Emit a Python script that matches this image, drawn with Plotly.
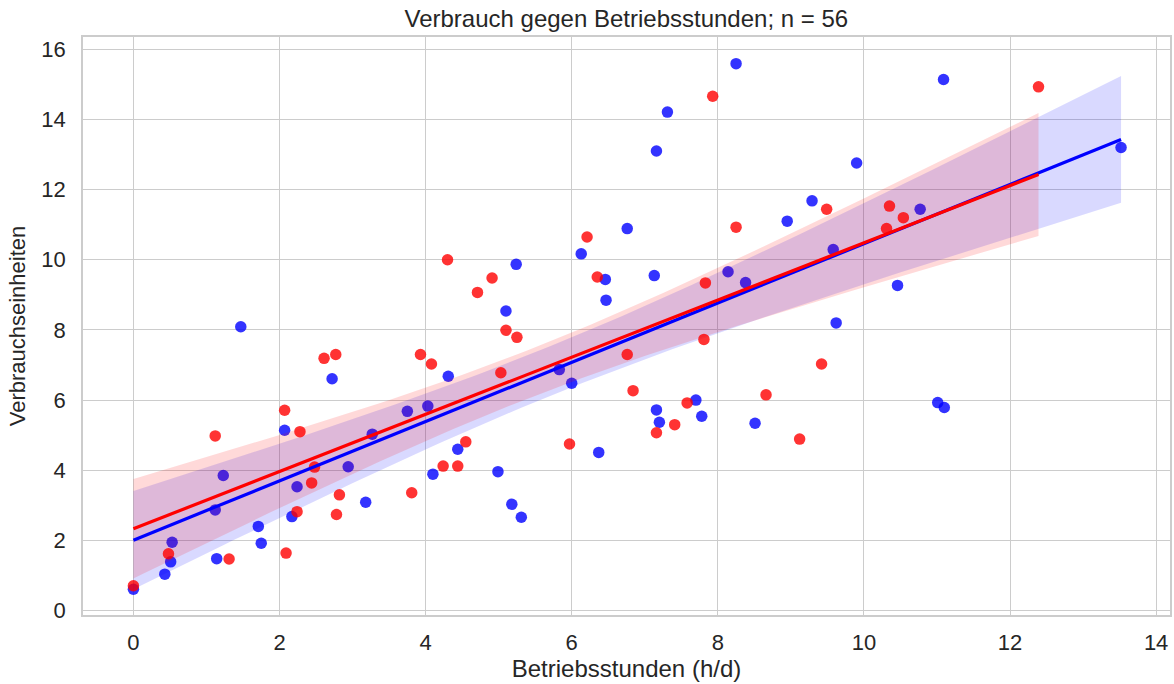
import numpy as np
import plotly.graph_objects as go

# Betriebsstunden (h/d) und Verbrauchseinheiten, Gruppe A (blau)
hours_a = [0.00, 0.43, 0.51, 0.53, 1.12, 1.14, 1.23, 1.47, 1.71, 1.75,
           2.07, 2.17, 2.24, 2.72, 2.94, 3.18, 3.27, 3.75, 4.03, 4.10,
           4.31, 4.44, 4.99, 5.10, 5.18, 5.24, 5.31, 5.83, 6.00, 6.13,
           6.37, 6.46, 6.47, 6.76, 7.13, 7.16, 7.16, 7.20, 7.31, 7.70,
           7.78, 8.14, 8.25, 8.38, 8.51, 8.95, 9.29, 9.58, 9.62, 9.90,
           10.46, 10.77, 11.01, 11.10, 11.09, 13.52]
usage_a = [0.61, 1.04, 1.39, 1.95, 2.87, 1.48, 3.85, 8.09, 2.40, 1.92,
           5.14, 2.68, 3.53, 6.61, 4.10, 3.09, 5.03, 5.68, 5.83, 3.89,
           6.68, 4.60, 3.96, 8.54, 3.03, 9.87, 2.66, 6.87, 6.48, 10.17,
           4.51, 9.44, 8.85, 10.89, 9.55, 13.10, 5.72, 5.37, 14.21, 6.00,
           5.54, 9.66, 15.59, 9.35, 5.34, 11.10, 11.68, 10.29, 8.20, 12.76,
           9.27, 11.44, 5.93, 5.79, 15.14, 13.20]

# Gruppe B (rot)
hours_b = [0.00, 0.48, 1.12, 1.31, 2.07, 2.09, 2.24, 2.28, 2.44, 2.48,
           2.61, 2.77, 2.78, 2.82, 3.81, 3.93, 4.08, 4.24, 4.30, 4.44,
           4.55, 4.71, 4.91, 5.03, 5.10, 5.25, 5.97, 6.21, 6.35, 6.76,
           6.84, 7.16, 7.41, 7.58, 7.81, 7.83, 7.93, 8.25, 8.66, 9.12,
           9.42, 9.49, 10.31, 10.35, 10.54, 12.39]
usage_b = [0.71, 1.62, 4.98, 1.47, 5.71, 1.64, 2.82, 5.10, 3.64, 4.09,
           7.19, 7.30, 2.74, 3.30, 3.36, 7.30, 7.03, 4.12, 10.00, 4.12,
           4.81, 9.07, 9.48, 6.78, 7.99, 7.79, 4.75, 10.65, 9.51, 7.30,
           6.27, 5.07, 5.30, 5.92, 7.73, 9.34, 14.66, 10.93, 6.15, 4.89,
           7.03, 11.44, 10.89, 11.53, 11.20, 14.93]

title_text = "Verbrauch gegen Betriebsstunden; n = 56"
x_label = "Betriebsstunden (h/d)"
y_label = "Verbrauchseinheiten"


def linear_fit(x, y, n_grid=100, t=2.005):
    """Least-squares line with a 95 % confidence band of the mean."""
    x = np.asarray(x, float)
    y = np.asarray(y, float)
    n = len(x)
    slope, intercept = np.polyfit(x, y, 1)
    resid = y - (slope * x + intercept)
    s = np.sqrt(np.sum(resid ** 2) / (n - 2))
    xbar = x.mean()
    sxx = np.sum((x - xbar) ** 2)
    grid = np.linspace(x.min(), x.max(), n_grid)
    fit = slope * grid + intercept
    half = t * s * np.sqrt(1.0 / n + (grid - xbar) ** 2 / sxx)
    return grid, fit, fit - half, fit + half


fig = go.Figure()

groups = [
    (hours_a, usage_a, "rgb(0,0,255)", "rgba(0,0,255,0.15)"),
    (hours_b, usage_b, "rgb(255,0,0)", "rgba(255,0,0,0.15)"),
]

lines = []
for xs, ys, col, band in groups:
    fig.add_trace(go.Scatter(
        x=xs, y=ys, mode="markers",
        marker=dict(size=11.5, color=col, opacity=0.8, line=dict(width=0)),
        showlegend=False, hoverinfo="x+y",
    ))
    grid, fit, lo, hi = linear_fit(xs, ys)
    fig.add_trace(go.Scatter(
        x=np.concatenate([grid, grid[::-1]]),
        y=np.concatenate([hi, lo[::-1]]),
        fill="toself", fillcolor=band, line=dict(width=0),
        mode="lines", showlegend=False, hoverinfo="skip",
    ))
    lines.append((grid, fit, col))

for grid, fit, col in lines:
    fig.add_trace(go.Scatter(
        x=grid, y=fit, mode="lines",
        line=dict(color=col, width=3.2),
        showlegend=False, hoverinfo="skip",
    ))

font_family = "Arial, Liberation Sans, sans-serif"
text_color = "#262626"
axis_common = dict(
    showgrid=True, gridcolor="#cccccc", gridwidth=1,
    showline=True, linecolor="#cccccc", linewidth=1.5, mirror=True,
    zeroline=False, ticks="outside", tickcolor="rgba(0,0,0,0)",
    automargin=False,
    tickfont=dict(family=font_family, size=22, color=text_color),
)

fig.update_layout(
    width=1174, height=684,
    margin=dict(l=83, r=4, t=37, b=69),
    paper_bgcolor="white", plot_bgcolor="white",
    font=dict(family=font_family, color=text_color),
    title=dict(text=title_text, x=0.5335, xanchor="center", y=0.973,
               yanchor="middle",
               font=dict(family=font_family, size=24, color=text_color)),
    xaxis=dict(range=[-0.69, 14.19], tickmode="array",
               tickvals=[0, 2, 4, 6, 8, 10, 12, 14], ticklen=7,
               title=dict(text=x_label, standoff=6,
                          font=dict(family=font_family, size=24, color=text_color)),
               **axis_common),
    yaxis=dict(range=[-0.125, 16.35], tickmode="array",
               tickvals=[0, 2, 4, 6, 8, 10, 12, 14, 16], ticklen=11,
               title=dict(text=y_label, standoff=10,
                          font=dict(family=font_family, size=22, color=text_color)),
               **axis_common),
)

fig.write_html("out.html")
